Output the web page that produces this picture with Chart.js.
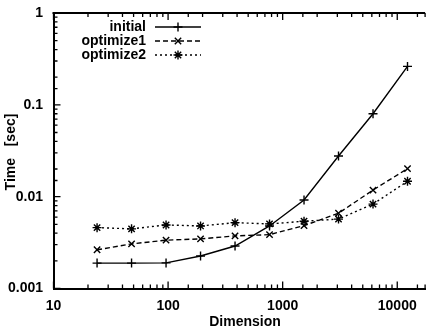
<!DOCTYPE html>
<html>
<head>
<meta charset="utf-8">
<script src="https://cdn.jsdelivr.net/npm/chart.js@4/dist/chart.umd.min.js"></script>
<style>
  html, body { margin: 0; padding: 0; background: #fff; }
  #wrap { width: 431px; height: 331px; }
</style>
</head>
<body>
<div id="wrap"><canvas id="myChart" width="431" height="331"></canvas></div>
<script>
const dims = [24, 48, 96, 192, 384, 768, 1536, 3072, 6144, 12288];

const initial   = [0.00189, 0.00189, 0.0019, 0.00226, 0.0029, 0.0048, 0.0092, 0.0277, 0.080, 0.262];
const optimize1 = [0.00264, 0.00306, 0.00336, 0.00347, 0.00374, 0.00386, 0.00484, 0.0066, 0.0118, 0.0202];
const optimize2 = [0.0046, 0.00446, 0.00492, 0.0048, 0.00521, 0.00505, 0.0054, 0.0057, 0.0083, 0.0147];

const seriesNames = ['initial', 'optimize1', 'optimize2'];
const xTitle = 'Dimension';
const yTitle = 'Time   [sec]';

const FONT = '"Liberation Sans", Arial, Helvetica, sans-serif';

function pts(ys) {
    return dims.map((d, i) => ({ x: d, y: ys[i] }));
}

function isDecade(v) {
    const l = Math.log10(v);
    return Math.abs(l - Math.round(l)) < 1e-9;
}

function fmt(v) {
    if (!isDecade(v)) return '';
    return String(Number(v.toPrecision(1)));
}

const common = {
    borderColor: '#000',
    pointBorderColor: '#000',
    pointBackgroundColor: '#000',
    borderWidth: 1.4,
    pointBorderWidth: 1.4,
    pointRadius: 4.5,
    fill: false,
    tension: 0
};

const data = {
    datasets: [
        { ...common, label: seriesNames[0], data: pts(initial), pointStyle: 'cross', borderDash: [] },
        { ...common, label: seriesNames[1], data: pts(optimize1), pointStyle: 'crossRot', borderDash: [5, 3] },
        { ...common, label: seriesNames[2], data: pts(optimize2), pointStyle: 'star', borderDash: [2, 3] }
    ]
};

// inward tick marks, top frame line, titles and the legend
const decor = {
    id: 'decor',
    afterDraw(chart) {
        const c = chart.ctx;
        const a = chart.chartArea;
        const xs = chart.scales.x, ys = chart.scales.y;
        c.save();
        c.strokeStyle = '#000';
        c.lineWidth = 1.3;
        c.beginPath();
        xs.ticks.forEach(t => {
            const px = xs.getPixelForValue(t.value);
            if (px < a.left - 0.5 || px > a.right + 0.5) return;
            const len = isDecade(t.value) ? 7 : 4;
            c.moveTo(px, a.bottom); c.lineTo(px, a.bottom - len);
            c.moveTo(px, a.top); c.lineTo(px, a.top + len);
        });
        ys.ticks.forEach(t => {
            const py = ys.getPixelForValue(t.value);
            const len = isDecade(t.value) ? 7 : 4;
            c.moveTo(a.left, py); c.lineTo(a.left + len, py);
        });
        c.stroke();

        c.lineWidth = 2;
        c.beginPath();
        c.moveTo(a.left - 1, a.top);
        c.lineTo(a.right, a.top);
        c.stroke();

        // axis titles
        c.fillStyle = '#000';
        c.font = 'bold 14px ' + FONT;
        c.textAlign = 'center';
        c.textBaseline = 'middle';
        c.fillText(xTitle, 245, 322);
        c.translate(11, 152);
        c.rotate(-Math.PI / 2);
        c.fillText(yTitle, 0, 0);
        c.setTransform(1, 0, 0, 1, 0, 0);

        // legend
        const rows = [27, 41, 55];
        chart.data.datasets.forEach((ds, i) => {
            const y = rows[i];
            c.font = 'bold 14px ' + FONT;
            c.textAlign = 'right';
            c.textBaseline = 'middle';
            c.fillText(ds.label, 146, y);
            c.lineWidth = ds.borderWidth;
            c.setLineDash(ds.borderDash);
            c.beginPath();
            c.moveTo(155, y);
            c.lineTo(201, y);
            c.stroke();
            c.setLineDash([]);
            Chart.helpers.drawPoint(c, {
                pointStyle: ds.pointStyle,
                radius: ds.pointRadius,
                borderWidth: ds.pointBorderWidth,
                rotation: 0
            }, 178, y);
        });
        c.restore();
    }
};

const config = {
    type: 'line',
    data: data,
    options: {
        responsive: false,
        animation: false,
        layout: { padding: { top: 13, right: 0, left: 0, bottom: 0 } },
        plugins: {
            legend: { display: false },
            tooltip: { enabled: false }
        },
        scales: {
            x: {
                type: 'logarithmic',
                min: 10,
                max: 17500,
                grid: { display: false, drawTicks: false },
                border: { display: true, color: '#000', width: 2 },
                ticks: {
                    autoSkip: false,
                    maxRotation: 0,
                    padding: 9,
                    color: '#000',
                    font: { family: FONT, size: 14, weight: 'bold' },
                    callback: v => fmt(v)
                },
                afterFit: s => {
                    s.height = 42.5;
                    s.paddingLeft = 0;
                    s.paddingRight = 0;
                }
            },
            y: {
                type: 'logarithmic',
                min: 0.001,
                max: 1,
                grid: { display: false, drawTicks: false },
                border: { display: true, color: '#000', width: 2 },
                ticks: {
                    autoSkip: false,
                    padding: 10.5,
                    color: '#000',
                    font: { family: FONT, size: 14, weight: 'bold' },
                    callback: v => fmt(v)
                },
                afterFit: s => {
                    s.width = 53.5;
                    s.paddingTop = 0;
                    s.paddingBottom = 0;
                }
            }
        }
    },
    plugins: [decor]
};

const myChart = new Chart(document.getElementById('myChart'), config);
</script>
</body>
</html>
